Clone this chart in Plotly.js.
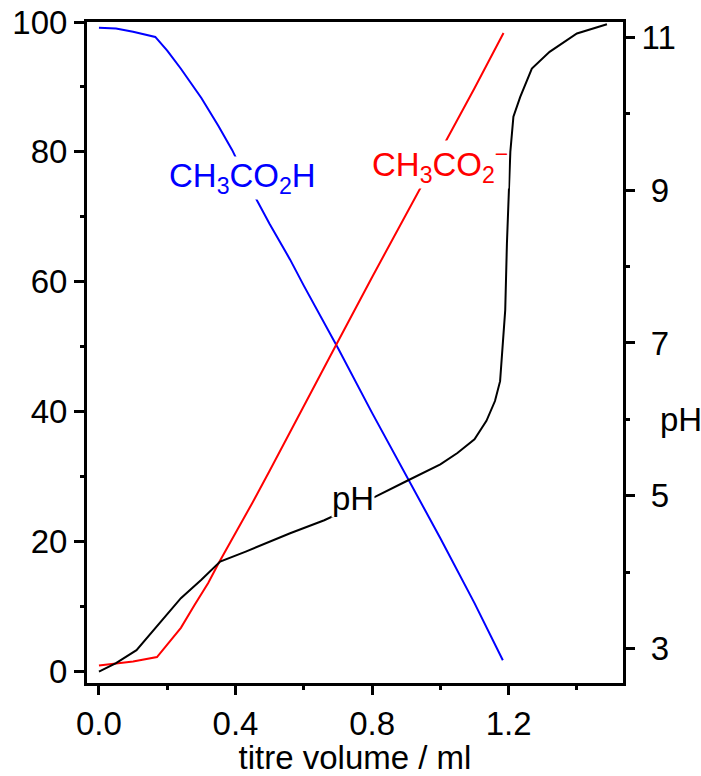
<!DOCTYPE html>
<html>
<head>
<meta charset="utf-8">
<script src="https://cdn.plot.ly/plotly-3.0.1.min.js"></script>
<style>html,body{margin:0;padding:0;background:#fff;}#chart{width:701px;height:776px;}</style>
</head>
<body>
<div id="chart"></div>
<script>
// titre volume / ml
const acidX = [0, 0.05, 0.1, 0.165, 0.2, 0.24, 0.3, 0.35, 0.39, 0.45, 0.5, 0.56, 0.6, 0.7, 0.8, 0.9, 1.0, 1.1, 1.183];
const acidY = [99.1, 99.0, 98.5, 97.7, 95.6, 92.8, 88.3, 84.0, 80.3, 73.8, 68.9, 63.4, 59.4, 49.8, 39.8, 30.2, 20.5, 10.5, 1.7];

const baseX = [0, 0.04, 0.1, 0.17, 0.2, 0.24, 0.28, 0.32, 0.35, 0.4, 0.45, 0.5, 0.56, 0.6, 0.7, 0.8, 0.9, 1.0, 1.1, 1.185];
const baseY = [0.9, 1.1, 1.5, 2.2, 4.2, 6.7, 10.2, 13.6, 16.6, 21.2, 26.0, 30.9, 36.8, 40.8, 50.8, 60.7, 70.5, 80.1, 89.8, 98.3];

const phX = [0, 0.05, 0.11, 0.17, 0.24, 0.3, 0.355, 0.43, 0.5, 0.56, 0.66, 0.75, 0.81, 0.9, 1.0, 1.05, 1.1, 1.135, 1.16, 1.175, 1.185, 1.19, 1.195, 1.2, 1.205, 1.214, 1.234, 1.268, 1.32, 1.4, 1.488];
const phY = [2.70, 2.81, 2.98, 3.29, 3.66, 3.90, 4.14, 4.27, 4.40, 4.51, 4.68, 4.86, 4.99, 5.19, 5.41, 5.56, 5.74, 5.98, 6.24, 6.50, 7.10, 7.43, 8.30, 9.00, 9.50, 9.96, 10.22, 10.59, 10.81, 11.05, 11.17];

const xTicks = [0, 0.4, 0.8, 1.2];
const xTickText = ['0.0', '0.4', '0.8', '1.2'];
const pctTicks = [0, 20, 40, 60, 80, 100];
const phTicks = [3, 5, 7, 9, 11];
const phTickText = ['\u00a03', '\u00a05', '\u00a07', '\u00a09', '11'];

const FONT = 'Liberation Sans, Arial, Helvetica, sans-serif';
const FS = 33;

const traces = [
  {x: acidX, y: acidY, type: 'scatter', mode: 'lines', line: {color: '#0000ff', width: 2}, xaxis: 'x', yaxis: 'y', hoverinfo: 'skip'},
  {x: baseX, y: baseY, type: 'scatter', mode: 'lines', line: {color: '#ff0000', width: 2}, xaxis: 'x', yaxis: 'y', hoverinfo: 'skip'},
  {x: phX, y: phY, type: 'scatter', mode: 'lines', line: {color: '#000000', width: 2}, xaxis: 'x', yaxis: 'y2', hoverinfo: 'skip'}
];

const layout = {
  width: 701, height: 776,
  margin: {l: 87, r: 78, t: 22, b: 93, pad: 0},
  paper_bgcolor: '#fff', plot_bgcolor: '#fff',
  showlegend: false,
  font: {family: FONT, size: FS, color: '#000'},
  xaxis: {
    range: [-0.035, 1.535], showgrid: false, zeroline: false,
    showline: true, linewidth: 3, linecolor: '#000', mirror: true,
    tickmode: 'array', tickvals: xTicks, ticktext: xTickText,
    ticks: 'outside', ticklen: 9, tickwidth: 3, tickcolor: '#000',
    minor: {tickmode: 'linear', tick0: 0, dtick: 0.2, ticks: 'outside', ticklen: 4, tickwidth: 3, tickcolor: '#000', showgrid: false},
    tickfont: {family: FONT, size: FS, color: '#000'},
    title: {text: 'titre volume / ml', font: {family: FONT, size: FS, color: '#000'}, standoff: 9}
  },
  yaxis: {
    range: [-1.8, 100], showgrid: false, zeroline: false,
    showline: true, linewidth: 3, linecolor: '#000',
    tickmode: 'array', tickvals: pctTicks,
    ticks: 'outside', ticklen: 10, tickwidth: 3, tickcolor: '#000',
    minor: {tickmode: 'linear', tick0: 0, dtick: 10, ticks: 'outside', ticklen: 4, tickwidth: 3, tickcolor: '#000', showgrid: false},
    tickfont: {family: FONT, size: FS, color: '#000'}
  },
  yaxis2: {
    overlaying: 'y', side: 'right',
    range: [2.55, 11.2], showgrid: false, zeroline: false,
    showline: true, linewidth: 3, linecolor: '#000',
    tickmode: 'array', tickvals: phTicks, ticktext: phTickText,
    ticks: 'outside', ticklen: 9, tickwidth: 3, tickcolor: '#000',
    minor: {tickmode: 'linear', tick0: 3, dtick: 1, ticks: 'outside', ticklen: 4, tickwidth: 3, tickcolor: '#000', showgrid: false},
    tickfont: {family: FONT, size: FS, color: '#000'}
  },
  annotations: [
    {text: 'CH<sub>3</sub>CO<sub>2</sub>H', xref: 'x', yref: 'y', x: 0.202, y: 76.0, xanchor: 'left', yanchor: 'middle',
     showarrow: false, bgcolor: '#fff', borderpad: 0, font: {family: FONT, size: FS, color: '#0000ff'}},
    {text: 'CH<sub>3</sub>CO<sub>2</sub><sup>\u2212</sup>', xref: 'x', yref: 'y', x: 0.798, y: 78.0, xanchor: 'left', yanchor: 'middle',
     showarrow: false, bgcolor: '#fff', borderpad: 0, font: {family: FONT, size: FS, color: '#ff0000'}},
    {text: 'pH', xref: 'x', yref: 'y', x: 0.68, y: 26.6, xanchor: 'left', yanchor: 'middle',
     showarrow: false, bgcolor: '#fff', borderpad: 0, font: {family: FONT, size: FS, color: '#000'}},
    {text: 'pH', xref: 'paper', yref: 'y2', x: 1.066, y: 6, xanchor: 'left', yanchor: 'middle',
     showarrow: false, font: {family: FONT, size: FS, color: '#000'}}
  ]
};

Plotly.newPlot('chart', traces, layout, {staticPlot: true, displayModeBar: false});
</script>
</body>
</html>
